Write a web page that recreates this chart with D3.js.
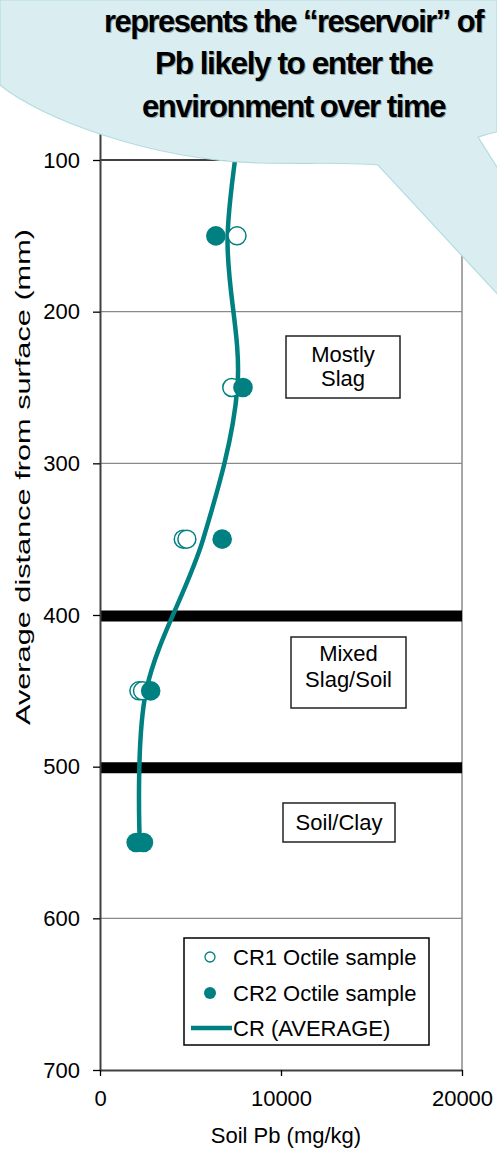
<!DOCTYPE html>
<html><head><meta charset="utf-8">
<script src="https://cdn.jsdelivr.net/npm/d3@7"></script>
<style>body{margin:0;background:#fff}svg{display:block}text{font-family:"Liberation Sans",Arial,sans-serif}</style>
</head><body><svg id="c" width="497" height="1150"></svg>
<script>
// ---- data ----
const cr1Depth = [150, 250, 350, 350, 450, 450];
const cr1Pb    = [7570, 7280, 4600, 4800, 2150, 2350];
const cr2Depth = [150, 250, 350, 450, 550, 550];
const cr2Pb    = [6400, 7900, 6750, 2800, 2000, 2400];
const avgDepth = [50, 150, 250, 350, 450, 550];
const avgPb    = [8100, 7050, 7590, 5700, 2550, 2200];
const yTicks = [100, 200, 300, 400, 500, 600, 700];
const xTicks = [0, 10000, 20000];
const layerBounds = [400, 500];
const layerLabels = [["Mostly", "Slag"], ["Mixed", "Slag/Soil"], ["Soil/Clay"]];
const calloutLines = ["represents the \u201creservoir\u201d of", "Pb likely to enter the", "environment over time"];
const legendLabels = ["CR1 Octile sample", "CR2 Octile sample", "CR (AVERAGE)"];
const xTitle = "Soil Pb (mg/kg)";
const yTitle = "Average distance from surface (mm)";

// ---- layout ----
const TEAL = "#008080";
const svg = d3.select("#c");
const x = d3.scaleLinear().domain([0, 20000]).range([100, 462]);
const y = d3.scaleLinear().domain([100, 700]).range([160, 1070]);
const FS = 22;

// gridlines
svg.append("g").selectAll("line").data(yTicks.slice(0, -1)).join("line")
  .attr("x1", x(0)).attr("x2", x(20000))
  .attr("y1", d => y(d)).attr("y2", d => y(d))
  .attr("stroke", d => d === 100 ? "#000" : "#8a8a8a").attr("stroke-width", 1.3);

// right border
svg.append("line").attr("x1", x(20000)).attr("x2", x(20000)).attr("y1", y(0)).attr("y2", y(700))
  .attr("stroke", "#8a8a8a").attr("stroke-width", 1.5);

// thick layer boundaries
svg.append("g").selectAll("line").data(layerBounds).join("line")
  .attr("x1", x(0)).attr("x2", x(20000))
  .attr("y1", d => y(d) + 1).attr("y2", d => y(d) + 1)
  .attr("stroke", "#000").attr("stroke-width", 11);

// axes
const yAxis = svg.append("g").attr("transform", `translate(${x(0)},0)`)
  .call(d3.axisLeft(d3.scaleLinear().domain([0, 700]).range([y(0), y(700)]))
    .tickValues(yTicks).tickSizeInner(7).tickSizeOuter(0).tickPadding(13));
const xAxis = svg.append("g").attr("transform", `translate(0,${y(700)})`)
  .call(d3.axisBottom(x).tickValues(xTicks).tickFormat(d3.format("d"))
    .tickSizeInner(6).tickSizeOuter(0).tickPadding(14));
[yAxis, xAxis].forEach(g => {
  g.selectAll("text").attr("font-size", FS).attr("fill", "#000")
    .attr("font-family", "'Liberation Sans', Arial, sans-serif");
  g.selectAll("line").attr("stroke", "#000").attr("stroke-width", 1.3);
});
yAxis.select(".domain").attr("stroke", "#404040").attr("stroke-width", 2);
xAxis.select(".domain").attr("stroke", "#404040").attr("stroke-width", 2);

// titles
svg.append("text").attr("x", 286).attr("y", 1143).attr("text-anchor", "middle")
  .attr("font-size", FS).text(xTitle);
svg.append("text").attr("transform", "translate(30,477) rotate(-90)").attr("text-anchor", "middle")
  .attr("font-size", 21).attr("textLength", 496).attr("lengthAdjust", "spacingAndGlyphs").text(yTitle);

// layer label boxes
const boxes = [
  {x0: 286, x1: 400, y0: 336, y1: 398, base: [362, 386]},
  {x0: 291, x1: 406, y0: 637, y1: 708, base: [661, 687]},
  {x0: 283, x1: 395, y0: 803, y1: 842, base: [830]}
];
boxes.forEach((b, i) => {
  svg.append("rect").attr("x", b.x0).attr("y", b.y0).attr("width", b.x1 - b.x0).attr("height", b.y1 - b.y0)
    .attr("fill", "#fff").attr("stroke", "#222").attr("stroke-width", 1.5);
  layerLabels[i].forEach((t, j) => {
    svg.append("text").attr("x", (b.x0 + b.x1) / 2).attr("y", b.base[j]).attr("text-anchor", "middle")
      .attr("font-size", FS).text(t);
  });
});

// average line
const line = d3.line().x(d => x(d[0])).y(d => y(d[1])).curve(d3.curveCardinal.tension(0));
svg.append("path").datum(avgPb.map((v, i) => [v, avgDepth[i]]))
  .attr("d", line).attr("fill", "none").attr("stroke", TEAL).attr("stroke-width", 4.5);

// points
svg.append("g").selectAll("circle").data(cr1Pb.map((v, i) => [v, cr1Depth[i]])).join("circle")
  .attr("cx", d => x(d[0])).attr("cy", d => y(d[1])).attr("r", 9)
  .attr("fill", "#fff").attr("stroke", TEAL).attr("stroke-width", 1.5);
svg.append("g").selectAll("circle").data(cr2Pb.map((v, i) => [v, cr2Depth[i]])).join("circle")
  .attr("cx", d => x(d[0])).attr("cy", d => y(d[1])).attr("r", 9.8)
  .attr("fill", TEAL);

// legend
const lg = svg.append("g");
lg.append("rect").attr("x", 184).attr("y", 938).attr("width", 245).attr("height", 107)
  .attr("fill", "#fff").attr("stroke", "#000").attr("stroke-width", 1.5);
const rows = [957, 993, 1028];
lg.append("circle").attr("cx", 210).attr("cy", rows[0]).attr("r", 5).attr("fill", "#fff").attr("stroke", TEAL).attr("stroke-width", 1.3);
lg.append("circle").attr("cx", 210).attr("cy", rows[1]).attr("r", 6).attr("fill", TEAL);
lg.append("line").attr("x1", 191).attr("x2", 232).attr("y1", rows[2]).attr("y2", rows[2]).attr("stroke", TEAL).attr("stroke-width", 4.5);
legendLabels.forEach((t, i) => {
  lg.append("text").attr("x", 233).attr("y", rows[i]).attr("dy", "0.36em").attr("font-size", FS).text(t);
});

// callout
const callout = "M0,0 L0,85 C40,118 150,160 260,163 C310,164 345,162 378,165 L750,567 L478,137 C485,135 490,133 497,132 L497,0 Z";
svg.append("path").attr("d", callout).attr("fill", "#daeef1").attr("stroke", "#b3dce1").attr("stroke-width", 1.2);
const cl = [{y: 32, w: 379, fs: 31}, {y: 74, w: 277, fs: 32}, {y: 117, w: 303, fs: 32}];
calloutLines.forEach((t, i) => {
  [["#9aa", 1, 1.2], ["#000", 0, 0]].forEach(([col, dx, dy]) => {
    svg.append("text").attr("x", 293.5 + dx).attr("y", cl[i].y + dy).attr("text-anchor", "middle")
      .attr("font-size", cl[i].fs).attr("font-weight", "bold").attr("fill", col)
      .attr("letter-spacing", -1.5)
      .attr("textLength", cl[i].w).attr("lengthAdjust", "spacingAndGlyphs").text(t);
  });
});
</script></body></html>
